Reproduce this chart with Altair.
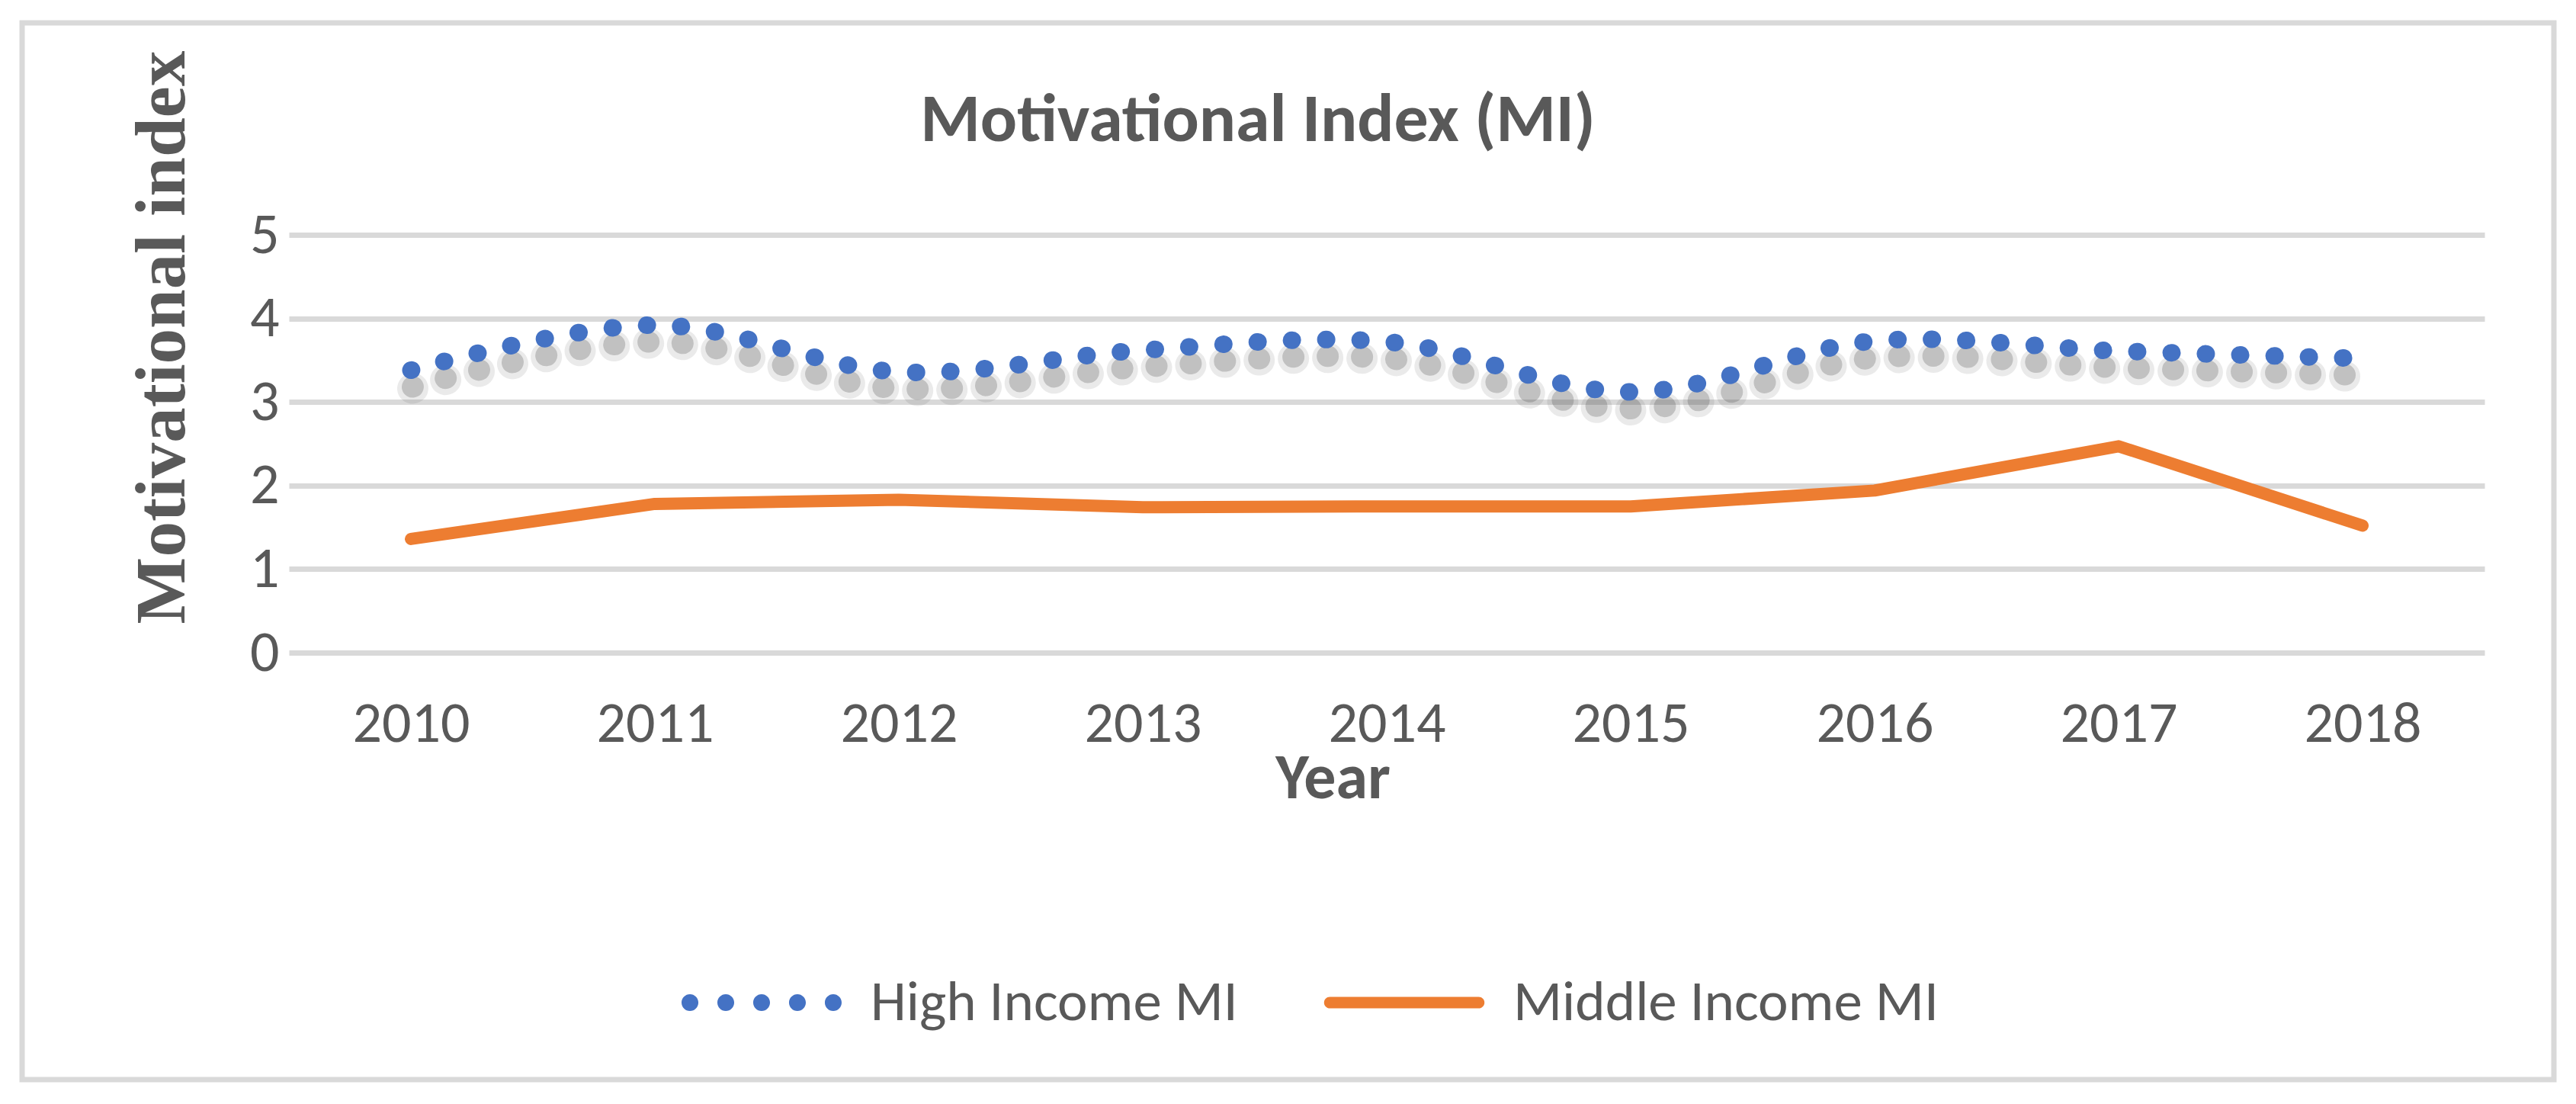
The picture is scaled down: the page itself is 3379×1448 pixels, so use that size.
import altair as alt
import pandas as pd

years = ["2010", "2011", "2012", "2013", "2014", "2015", "2016", "2017", "2018"]
high_income = [3.38, 3.92, 3.36, 3.62, 3.72, 3.12, 3.73, 3.61, 3.52]
middle_income = [1.36, 1.78, 1.83, 1.74, 1.75, 1.75, 1.94, 2.47, 1.52]
series_names = ["High Income MI", "Middle Income MI"]
y_ticks = [0, 1, 2, 3, 4, 5]

rows = []
for y, h, m in zip(years, high_income, middle_income):
    rows.append({"year": y, "series": series_names[0], "value": h})
    rows.append({"year": y, "series": series_names[1], "value": m})
df = pd.DataFrame(rows)

TEXT = "#595959"
BLUE = "#4472C4"
ORANGE = "#ED7D31"
SANS = "Carlito, Lato, sans-serif"
SERIF = "Liberation Serif, Times New Roman, serif"


def circle(cx, r):
    return (f"M{cx - r:.4f},0A{r:.4f},{r:.4f} 0 1,0 {cx + r:.4f},0"
            f"A{r:.4f},{r:.4f} 0 1,0 {cx - r:.4f},0Z")


r_dot = 0.105
dots_path = "".join(circle(c, r_dot) for c in [-0.895, -0.4475, 0.0, 0.4475, 0.895])
h = 0.072
bar_path = (f"M-0.93,{-h}L0.93,{-h}A{h},{h} 0 0,1 0.93,{h}"
            f"L-0.93,{h}A{h},{h} 0 0,1 -0.93,{-h}Z")

x_enc = alt.X(
    "year:O",
    scale=alt.Scale(type="point", padding=0.5, domain=years),
    axis=alt.Axis(
        title="Year", titleFont=SANS, titleFontSize=84, titleFontWeight="bold",
        titleColor=TEXT, titleX=1369, titleY=190, titleBaseline="alphabetic",
        labelFont=SANS, labelFontSize=76, labelColor=TEXT, labelAngle=0,
        labelBaseline="alphabetic", labelPadding=116, ticks=False, domain=False,
        grid=False,
    ),
)
y_enc = alt.Y(
    "value:Q",
    scale=alt.Scale(domain=[0, 5], nice=False),
    axis=alt.Axis(
        title="Motivational index", titleFont=SERIF, titleFontSize=93,
        titleFontWeight="bold", titleColor=TEXT, titleX=-138, titleY=134,
        titleBaseline="alphabetic", titleAngle=270,
        labelFont=SANS, labelFontSize=76, labelColor=TEXT, labelPadding=13,
        values=y_ticks, ticks=False, domain=False, grid=True,
        gridColor="#D9D9D9", gridWidth=7,
    ),
)

high = df[df["series"] == series_names[0]]
middle = df[df["series"] == series_names[1]]

shadow_wide = alt.Chart(high).mark_line(
    interpolate="catmull-rom", color="#555555", opacity=0.12, strokeWidth=40,
    strokeDash=[1, 44], strokeCap="round", yOffset=24, xOffset=2,
).encode(x=x_enc, y=y_enc)

shadow = alt.Chart(high).mark_line(
    interpolate="catmull-rom", color="#555555", opacity=0.28, strokeWidth=28,
    strokeDash=[1, 44], strokeCap="round", yOffset=22, xOffset=2,
).encode(x=x_enc, y=y_enc)

high_line = alt.Chart(high).mark_line(
    interpolate="catmull-rom", color=BLUE, strokeWidth=23, strokeCap="round",
    strokeDash=[1, 44],
).encode(x=x_enc, y=y_enc)

middle_line = alt.Chart(middle).mark_line(
    color=ORANGE, strokeWidth=16, strokeCap="round", strokeJoin="round",
).encode(x=x_enc, y=y_enc)

# Legend keys only: no rows are drawn, the legend comes from the fixed scales.
legend_keys = alt.Chart(df).transform_filter("false").mark_point(
    filled=True, opacity=1
).encode(
    x=x_enc,
    y=y_enc,
    color=alt.Color(
        "series:N",
        scale=alt.Scale(domain=series_names, range=[BLUE, ORANGE]),
        legend=alt.Legend(
            title=None, orient="none", direction="horizontal", legendX=515,
            legendY=902, symbolSize=44100, symbolOpacity=1, symbolStrokeWidth=0,
            labelFont=SANS, labelFontSize=75, labelColor=TEXT, labelOffset=38,
            labelLimit=3000, columnPadding=112, padding=0,
        ),
    ),
    shape=alt.Shape(
        "series:N",
        scale=alt.Scale(domain=series_names, range=[dots_path, bar_path]),
    ),
)

border = alt.Chart(alt.Data(values=[{"b": 1}])).mark_rect(
    filled=False, stroke="#D9D9D9", strokeWidth=7, clip=False,
).encode(
    x=alt.value(-350), x2=alt.value(2971), y=alt.value(-278), y2=alt.value(1108)
)

chart = alt.layer(
    border, shadow_wide, shadow, high_line, middle_line, legend_keys
).properties(
    width=2880,
    height=548,
    autosize=alt.AutoSizeParams(type="none"),
    padding={"left": 371, "top": 300, "right": 100, "bottom": 575},
    background="white",
    title=alt.TitleParams(
        "Motivational Index (MI)", font=SANS, fontSize=90, fontWeight="bold",
        color=TEXT, anchor="middle", dx=-169, dy=248, offset=0,
        baseline="alphabetic",
    ),
).configure_view(stroke=None)

chart.save("out.html", embed_options={"renderer": "svg", "actions": False})
